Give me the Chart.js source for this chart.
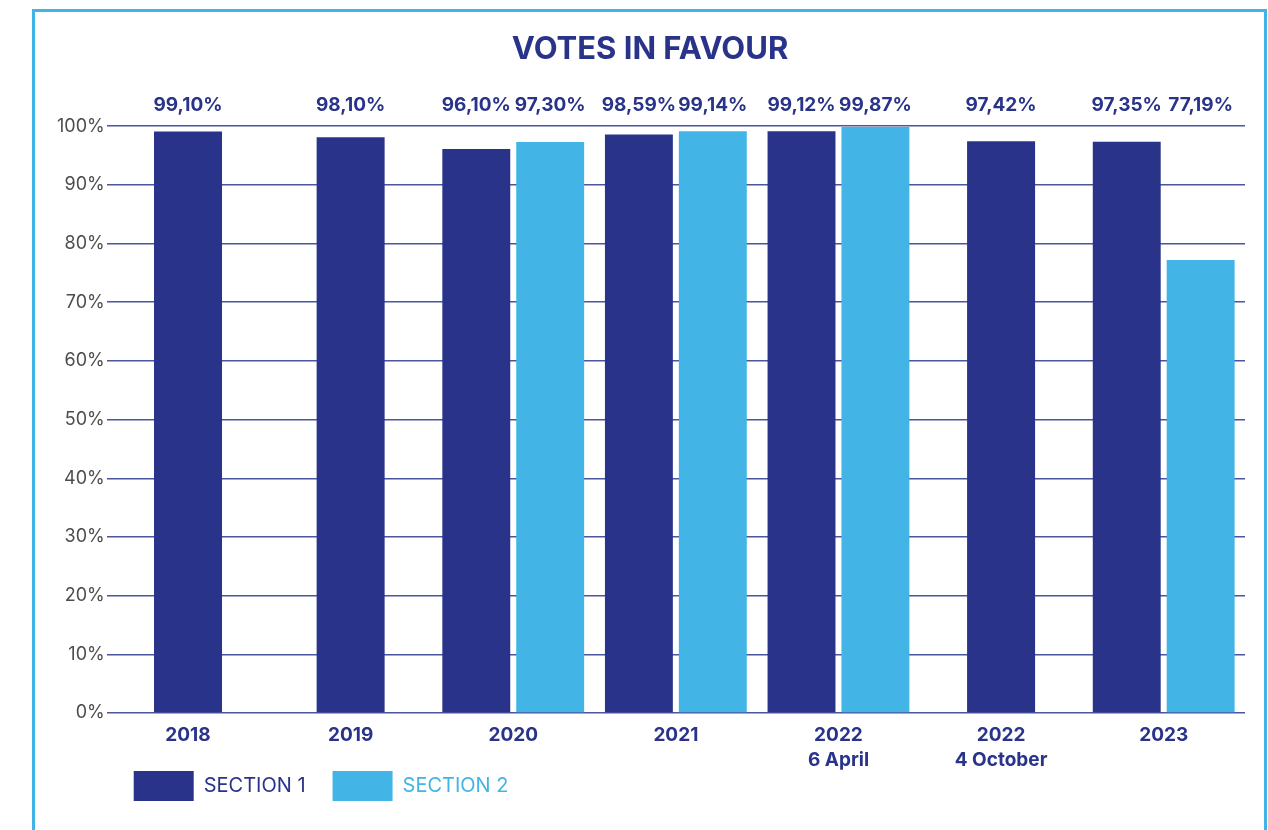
<!DOCTYPE html>
<html>
<head>
<meta charset="utf-8">
<script src="https://cdn.jsdelivr.net/npm/chart.js@4"></script>
<style>
  html, body { margin: 0; padding: 0; background: #fff; }
  #wrap { position: relative; width: 1268px; height: 830px; overflow: hidden; }
  #frame { position: absolute; left: 32px; top: 9px; width: 1235px; height: 900px; border: 3px solid #41b4e6; box-sizing: border-box; }
  canvas { position: absolute; left: 0; top: 0; }
</style>
</head>
<body>
<div id="wrap">
  <div id="frame"></div>
  <canvas id="c" width="1268" height="830"></canvas>
</div>
<script>
const categories = ["2018", "2019", "2020", "2021", ["2022", "6 April"], ["2022", "4 October"], "2023"];
const section1 = [99.10, 98.10, 96.10, 98.59, 99.12, 97.42, 97.35];
const section2 = [null, null, 97.30, 99.14, 99.87, null, 77.19];
const seriesNames = ["SECTION 1", "SECTION 2"];
const yTicks = [0, 10, 20, 30, 40, 50, 60, 70, 80, 90, 100];

const NAVY = '#283389';
const SKY = '#42b4e6';
const FONT = "Inter, 'Open Sans', sans-serif";

const fmt = v => v.toFixed(2).replace('.', ',') + '%';

const valueLabels = {
  id: 'valueLabels',
  afterLayout(chart) {
    // let the x tick labels extend below the squeezed axis box (no clipping)
    chart.scales.x.bottom = chart.height;
  },
  afterDatasetsDraw(chart) {
    const ctx = chart.ctx;
    ctx.save();
    ctx.font = "bold 19px " + FONT;
    ctx.fillStyle = NAVY;
    ctx.textAlign = 'center';
    ctx.textBaseline = 'middle';
    chart.data.datasets.forEach((ds, di) => {
      const meta = chart.getDatasetMeta(di);
      meta.data.forEach((el, i) => {
        const v = ds.data[i];
        if (v === null || v === undefined) return;
        ctx.fillText(fmt(v), el.x, chart.chartArea.top - 21);
      });
    });
    ctx.restore();
  }
};

new Chart(document.getElementById('c'), {
  type: 'bar',
  data: {
    labels: categories,
    datasets: [
      { label: seriesNames[0], data: section1, backgroundColor: NAVY, skipNull: true },
      { label: seriesNames[1], data: section2, backgroundColor: SKY, skipNull: true }
    ]
  },
  options: {
    responsive: false,
    animation: false,
    categoryPercentage: 0.909,
    barPercentage: 0.919,
    maxBarThickness: 68,
    layout: { padding: { top: 0, bottom: 19, left: 55, right: 23 } },
    plugins: {
      title: {
        display: true,
        text: 'VOTES IN FAVOUR',
        color: NAVY,
        font: { family: FONT, size: 31, weight: 'bold' },
        padding: { top: 31, bottom: 58 }
      },
      legend: {
        position: 'bottom',
        align: 'start',
        fullSize: false,
        labels: {
          boxWidth: 60,
          boxHeight: 30,
          padding: 27,
          font: { family: FONT, size: 20 },
          generateLabels(chart) {
            return chart.data.datasets.map((ds, i) => ({
              text: ds.label,
              fillStyle: ds.backgroundColor,
              strokeStyle: ds.backgroundColor,
              lineWidth: 0,
              fontColor: i === 0 ? NAVY : SKY,
              datasetIndex: i,
              hidden: false
            }));
          }
        }
      },
      tooltip: { enabled: false }
    },
    scales: {
      x: {
        grid: { display: false },
        border: { display: false },
        ticks: {
          color: NAVY,
          font: { family: FONT, size: 19, weight: 'bold', lineHeight: 1.3 },
          padding: 2,
          maxRotation: 0
        },
        afterFit(s) { s.height = 31; }
      },
      y: {
        min: 0,
        max: 100,
        afterBuildTicks(s) { s.ticks = yTicks.map(v => ({ value: v })); },
        grid: { color: '#4a55a0', lineWidth: 1.5, drawTicks: false },
        border: { display: false },
        ticks: {
          color: '#4d4d4d',
          font: { family: FONT, size: 18 },
          padding: 2,
          callback: v => v + '%'
        }
      }
    }
  },
  plugins: [valueLabels]
});
</script>
</body>
</html>
